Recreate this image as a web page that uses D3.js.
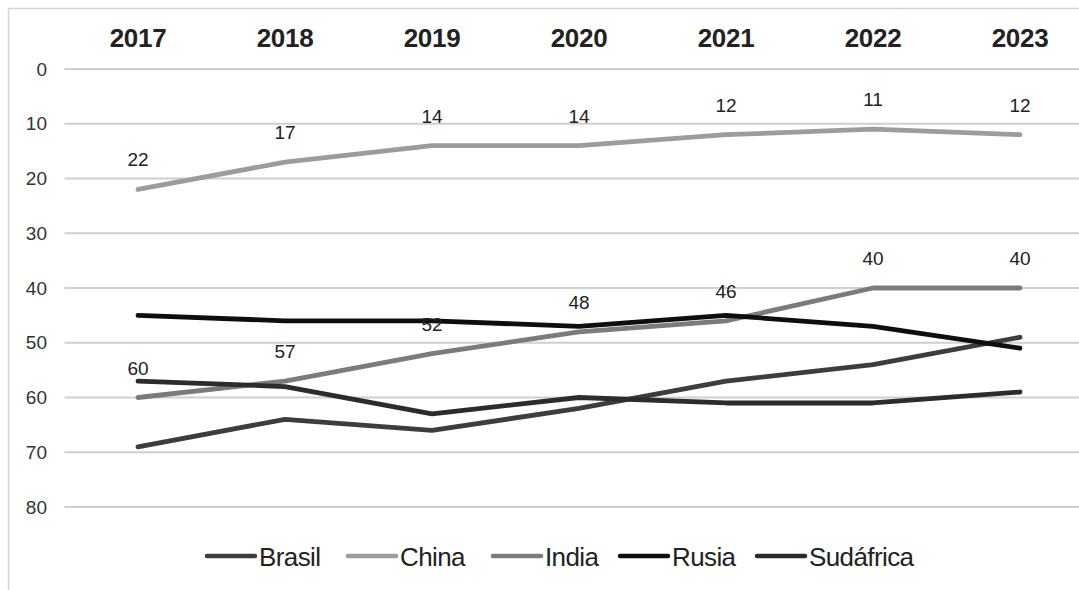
<!DOCTYPE html>
<html><head><meta charset="utf-8">
<script src="https://cdn.jsdelivr.net/npm/d3@7"></script>
<style>
html,body{margin:0;padding:0;background:#fff;}
svg{display:block;font-family:"Liberation Sans",Arial,sans-serif;}
</style></head>
<body><svg id="c" width="1079" height="590"></svg>
<script>
const years = ["2017","2018","2019","2020","2021","2022","2023"];
const yTicks = [0,10,20,30,40,50,60,70,80];
const seriesNames = ["Brasil","China","India","Rusia","Sudáfrica"];
const brasil = [69,64,66,62,57,54,49];
const china = [22,17,14,14,12,11,12];
const india = [60,57,52,48,46,40,40];
const rusia = [45,46,46,47,45,47,51];
const sudafrica = [57,58,63,60,61,61,59];
const labeled = ["China","India"];

const series = [
  {name:"Brasil", values:brasil, color:"#3d3d3d"},
  {name:"China", values:china, color:"#9c9c9c"},
  {name:"India", values:india, color:"#7b7b7b"},
  {name:"Rusia", values:rusia, color:"#0e0e0e"},
  {name:"Sudáfrica", values:sudafrica, color:"#2c2c2c"}
];

const svg = d3.select("#c");
// outer frame
svg.append("line").attr("x1",8).attr("x2",1079).attr("y1",8.5).attr("y2",8.5).attr("stroke","#d4d4d4").attr("stroke-width",1.5);
svg.append("line").attr("x1",8.5).attr("x2",8.5).attr("y1",8).attr("y2",590).attr("stroke","#d4d4d4").attr("stroke-width",1.5);

const x = d3.scaleBand().domain(years).range([64.5,1093.5]);
const y = d3.scaleLinear().domain([0,80]).range([69,507]);
const cx = d => x(d) + x.bandwidth()/2;

// gridlines
svg.append("g").selectAll("line").data(yTicks).join("line")
  .attr("x1",64.5).attr("x2",1093.5)
  .attr("y1",d=>y(d)).attr("y2",d=>y(d))
  .attr("stroke","#cfcfcf").attr("stroke-width",1.8);

// y axis labels
const yAxis = d3.axisLeft(y).tickValues(yTicks).tickSize(0).tickPadding(0);
const ya = svg.append("g").attr("transform","translate(47,0)").call(yAxis);
ya.select(".domain").remove();
ya.selectAll("text").attr("font-size",19).attr("fill","#333").attr("font-family","Liberation Sans, Arial, sans-serif");

// x axis (top) labels
const xAxis = d3.axisTop(x).tickSize(0).tickPadding(0);
const xa = svg.append("g").attr("transform","translate(0,47)").call(xAxis);
xa.select(".domain").remove();
xa.selectAll("text").attr("font-size",26).attr("font-weight","bold").attr("fill","#222")
  .attr("letter-spacing","-0.3px").attr("font-family","Liberation Sans, Arial, sans-serif");

// lines
const line = d3.line().x((d,i)=>cx(years[i])).y(d=>y(d));
svg.append("g").selectAll("path").data(series).join("path")
  .attr("d",d=>line(d.values)).attr("fill","none")
  .attr("stroke",d=>d.color).attr("stroke-width",4.8)
  .attr("stroke-linejoin","round").attr("stroke-linecap","round");

// data labels
series.filter(s=>labeled.includes(s.name)).forEach(s=>{
  svg.append("g").selectAll("text").data(s.values).join("text")
    .attr("x",(d,i)=>cx(years[i])).attr("y",d=>y(d)-23)
    .attr("text-anchor","middle").attr("font-size",19).attr("fill","#222")
    .text(d=>d);
});

// legend
const legX = [207,348,493,620,757];
const lg = svg.append("g").selectAll("g").data(series).join("g")
  .attr("transform",(d,i)=>`translate(${legX[i]},556)`);
lg.append("line").attr("x1",0).attr("x2",48).attr("y1",0).attr("y2",0)
  .attr("stroke",d=>d.color).attr("stroke-width",4.5).attr("stroke-linecap","round");
lg.append("text").attr("x",52).attr("y",9.5).attr("font-size",26).attr("fill","#222")
  .attr("letter-spacing","-0.6px").text(d=>d.name);
</script></body></html>
